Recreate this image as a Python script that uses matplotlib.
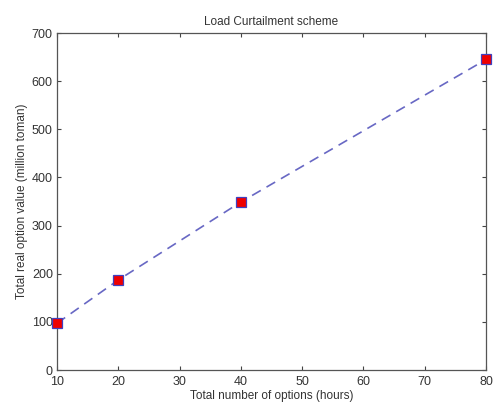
import matplotlib
matplotlib.use("Agg")
import matplotlib.pyplot as plt

plt.rcParams['font.family'] = ['Liberation Sans', 'DejaVu Sans']

hours = [10, 20, 40, 80]
option_value = [97, 187, 349, 645]
x_ticks = [10, 20, 30, 40, 50, 60, 70, 80]
y_ticks = [0, 100, 200, 300, 400, 500, 600, 700]

fig = plt.figure(figsize=(4.93, 4.05), dpi=100)
ax = fig.add_axes([0.1156, 0.0864, 0.8704, 0.8321])

ax.plot(hours, option_value, linestyle=(0, (6, 4)), color='#6868c4', linewidth=1.2,
        marker='s', markersize=6.5, markerfacecolor='#ee0000', markeredgecolor='#4040c0',
        markeredgewidth=0.9, clip_on=False, zorder=3)

ax.set_xlim(10, 80)
ax.set_ylim(0, 700)
ax.set_xticks(x_ticks)
ax.set_yticks(y_ticks)
ax.tick_params(direction='in', length=3, width=0.8, labelsize=9, top=True, right=True,
               colors='#444444', labelcolor='#333333')
ax.tick_params(axis='y', pad=3)
ax.tick_params(axis='x', pad=4.5)
for s in ax.spines.values():
    s.set_color('#555555')
    s.set_linewidth(0.9)

ax.set_title('Load Curtailment scheme', fontsize=8.5, color='#333333', pad=6)
ax.set_xlabel('Total number of options (hours)', fontsize=8.5, color='#333333', labelpad=1)
ax.set_ylabel('Total real option value (million toman)', fontsize=8.5, color='#333333', labelpad=3)

fig.savefig('out.png', dpi=100)
